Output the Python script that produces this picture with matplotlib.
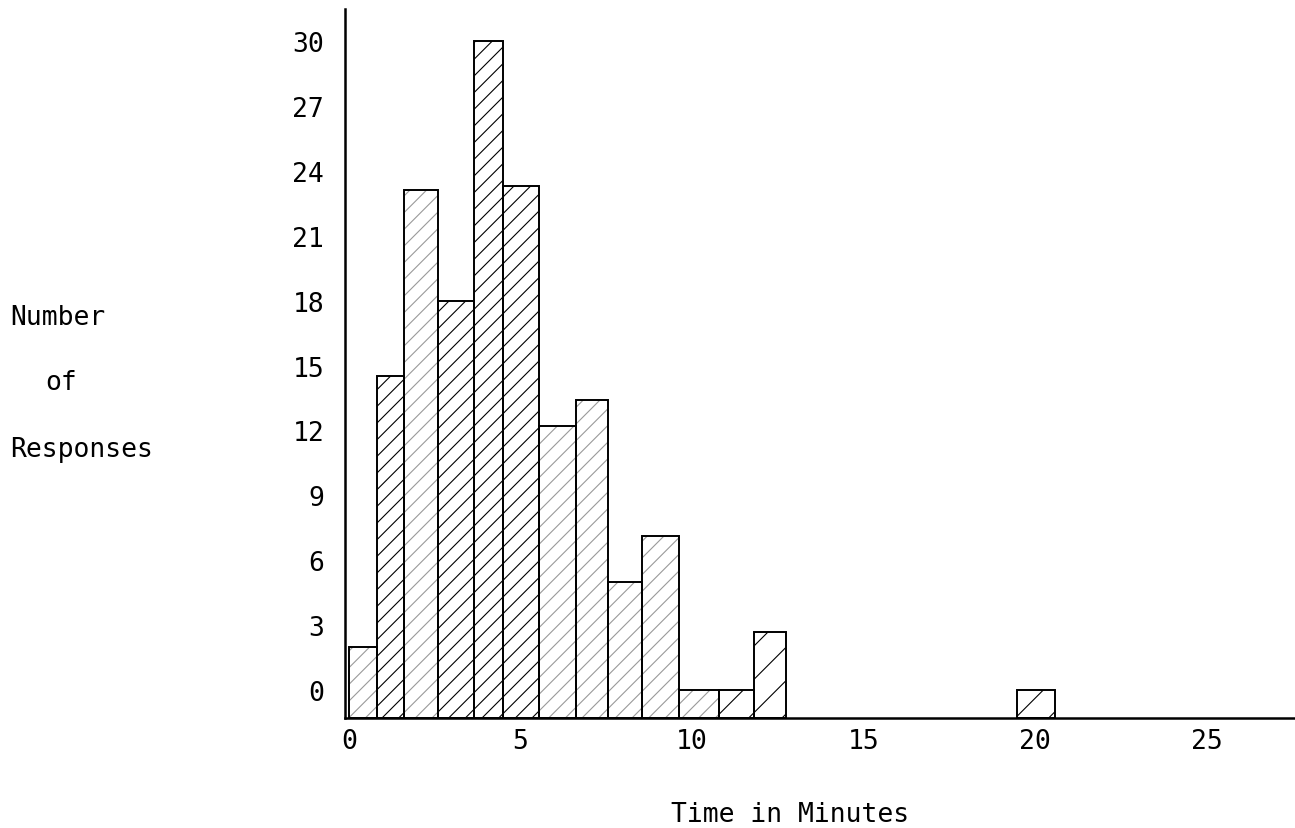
import matplotlib.pyplot as plt

# values
bin_left = [0, 0.82, 1.6, 2.59, 3.64, 4.49, 5.54, 6.62, 7.55, 8.54, 9.62, 10.79, 11.81, 19.48]
bin_right = [0.82, 1.6, 2.59, 3.64, 4.49, 5.54, 6.62, 7.55, 8.54, 9.62, 10.79, 11.81, 12.74, 20.58]
counts = [2, 14.5, 23.1, 18, 30, 23.3, 12.2, 13.4, 5, 7.1, 0, 0, 2.7, 0]
y_ticks = [0, 3, 6, 9, 12, 15, 18, 21, 24, 27, 30]
x_ticks = [0, 5, 10, 15, 20, 25]

# hatch look per bar (dense solid / light dashed / sparse)
looks = ["light", "dense", "light", "dense", "dense", "dense", "light",
         "light", "light", "light", "light", "sparse", "sparse", "sparse"]
hatch_style = {"dense": ("//", "black"), "light": ("//", "#9a9a9a"), "sparse": ("/", "black")}

BASE = -1.29
FONT = "DejaVu Sans Mono"
plt.rcParams["hatch.linewidth"] = 0.8

fig = plt.figure(figsize=(12.95, 8.29), dpi=100)
ax = fig.add_axes([345 / 1295, 1 - 719 / 829, 950 / 1295, 709 / 829])

widths = [r - l for l, r in zip(bin_left, bin_right)]
heights = [c - BASE for c in counts]

for l, w, h, look in zip(bin_left, widths, heights, looks):
    hatch, col = hatch_style[look]
    ax.bar(l, h, width=w, bottom=BASE, align="edge", color="none",
           edgecolor=col, linewidth=0, hatch=hatch)
ax.bar(bin_left, heights, width=widths, bottom=BASE, align="edge",
       fill=False, edgecolor="black", linewidth=1.4)

ax.set_xlim(-0.12, 27.58)
ax.set_ylim(BASE, 31.48)
ax.set_xticks(x_ticks)
ax.set_yticks(y_ticks)
ax.set_xticklabels([str(v) for v in x_ticks], fontfamily=FONT, fontsize=19)
ax.set_yticklabels([str(v) for v in y_ticks], fontfamily=FONT, fontsize=19)
ax.tick_params(axis="x", length=0, pad=7)
ax.tick_params(axis="y", length=0, pad=15)

for s in ["top", "right"]:
    ax.spines[s].set_visible(False)
ax.spines["left"].set_linewidth(1.8)
ax.spines["bottom"].set_linewidth(1.8)

fig.text(10 / 1295, 1 - 325 / 829, "Number", fontfamily=FONT, fontsize=19, va="baseline")
fig.text(45 / 1295, 1 - 390 / 829, "of", fontfamily=FONT, fontsize=19, va="baseline")
fig.text(10 / 1295, 1 - 457 / 829, "Responses", fontfamily=FONT, fontsize=19, va="baseline")
fig.text(790 / 1295, 1 - 822 / 829, "Time in Minutes", fontfamily=FONT, fontsize=19,
         ha="center", va="baseline")

fig.savefig("out.png", dpi=100)
